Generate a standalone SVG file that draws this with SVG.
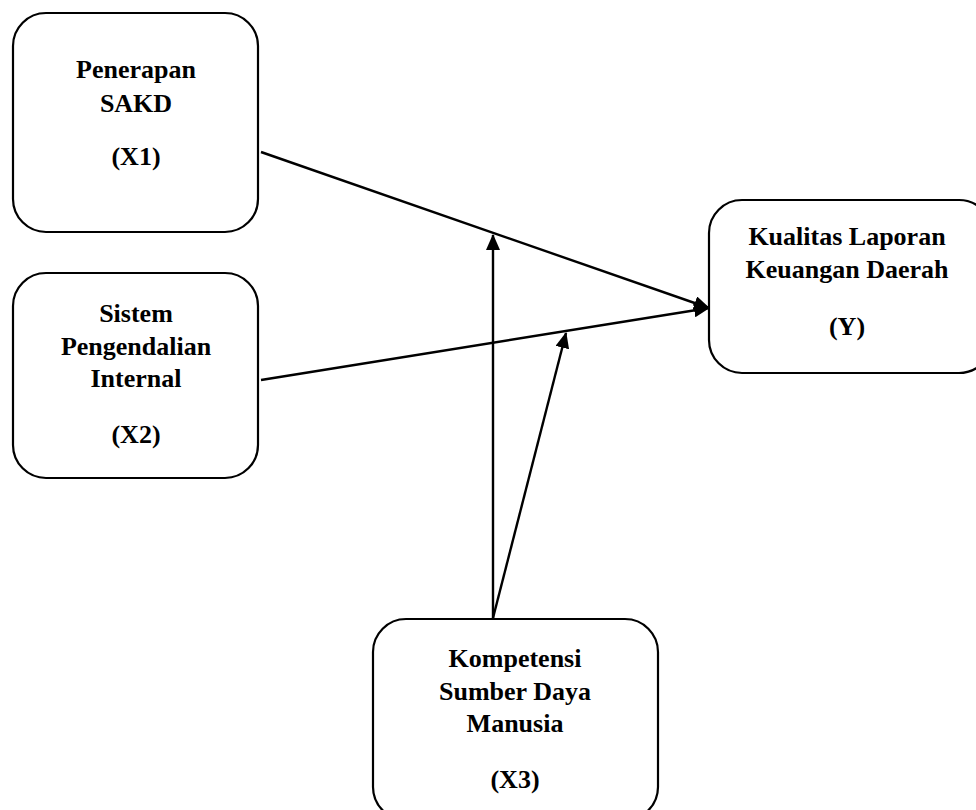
<svg xmlns="http://www.w3.org/2000/svg" width="976" height="810" viewBox="0 0 976 810">
<style>
.box{fill:#fff;stroke:#000;stroke-width:2.2}
.t{font-family:"Liberation Serif","Times New Roman",serif;font-weight:bold;font-size:26px;text-anchor:middle;fill:#000}
.c{stroke:#000;stroke-width:2.4;fill:none;marker-end:url(#ah)}
</style>
<defs>
<marker id="ah" markerUnits="userSpaceOnUse" markerWidth="16" markerHeight="14" refX="15" refY="7" orient="auto">
<path d="M0,0 L16,7 L0,14 Z" fill="#000"/>
</marker>
</defs>
<rect width="976" height="810" fill="#fff"/>
<g id="connectors">
<line class="c" x1="261" y1="152" x2="709" y2="308"/>
<line class="c" x1="261" y1="380" x2="709" y2="308"/>
<line class="c" x1="493" y1="618" x2="493" y2="235"/>
<line class="c" x1="493" y1="618" x2="566" y2="333"/>
</g>
<g id="x1">
<rect class="box" x="13" y="13" width="245" height="219" rx="33"/>
<text class="t" x="136" y="78">Penerapan</text>
<text class="t" x="136" y="112">SAKD</text>
<text class="t" x="136" y="165">(X1)</text>
</g>
<g id="x2">
<rect class="box" x="13" y="273" width="245" height="205" rx="33"/>
<text class="t" x="136" y="322">Sistem</text>
<text class="t" x="136" y="355">Pengendalian</text>
<text class="t" x="136" y="387">Internal</text>
<text class="t" x="136" y="443">(X2)</text>
</g>
<g id="y">
<rect class="box" x="709" y="200" width="283" height="173" rx="33"/>
<text class="t" x="847" y="245">Kualitas Laporan</text>
<text class="t" x="847" y="278">Keuangan Daerah</text>
<text class="t" x="847" y="335">(Y)</text>
</g>
<g id="x3">
<rect class="box" x="373" y="619" width="285" height="201" rx="33"/>
<text class="t" x="515" y="667">Kompetensi</text>
<text class="t" x="515" y="700">Sumber Daya</text>
<text class="t" x="515" y="732">Manusia</text>
<text class="t" x="515" y="788">(X3)</text>
</g>
</svg>
